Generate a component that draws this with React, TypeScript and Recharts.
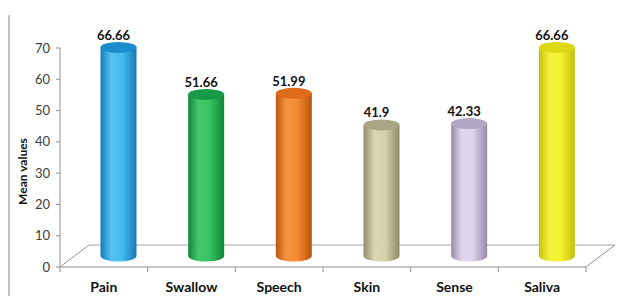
import { BarChart, Bar, XAxis, YAxis, LabelList, Customized } from 'recharts';

const CATEGORIES = ['Pain', 'Swallow', 'Speech', 'Skin', 'Sense', 'Saliva'];
const MEAN_VALUES = [66.66, 51.66, 51.99, 41.9, 42.33, 66.66];
const Y_TICKS = [0, 10, 20, 30, 40, 50, 60, 70];

const COLORS = [
  { dark: '#1679b8', light: '#45bdf0', top: '#1d8ccc' },
  { dark: '#10853a', light: '#35c460', top: '#169a48' },
  { dark: '#b8560f', light: '#f68a30', top: '#de6c1a' },
  { dark: '#8d8a68', light: '#d6d1ad', top: '#aaa584' },
  { dark: '#958aa8', light: '#ddd3ec', top: '#b3a8c4' },
  { dark: '#c4c00c', light: '#f5f22e', top: '#dcd814' },
];

const data = CATEGORIES.map((name, i) => ({ name, value: MEAN_VALUES[i] }));

// plot area geometry (fixed size chart)
const W = 630, H = 296;
const LEFT = 60, RIGHT = 586, TOP = 48, BOTTOM = 267;
const DEPTH_X = 29, DEPTH_Y = 22;
const DX = DEPTH_X / 2, DY = DEPTH_Y / 2;
const RY = 5.5;
const FONT = 'Lato, "Open Sans", sans-serif';

function Floor() {
  const band = (RIGHT - LEFT) / CATEGORIES.length;
  return (
    <g>
      <line x1={9} y1={15} x2={9} y2={H} stroke="#9a9a9a" strokeWidth={1.2} />
      <line x1={LEFT + DEPTH_X} y1={BOTTOM - DEPTH_Y} x2={RIGHT + DEPTH_X} y2={BOTTOM - DEPTH_Y} stroke="#a6a6a6" />
      <line x1={LEFT} y1={BOTTOM} x2={LEFT + DEPTH_X} y2={BOTTOM - DEPTH_Y} stroke="#909090" />
      <line x1={RIGHT} y1={BOTTOM} x2={RIGHT + DEPTH_X} y2={BOTTOM - DEPTH_Y} stroke="#909090" />
      {Array.from({ length: CATEGORIES.length + 1 }, (_, i) => (
        <line key={i} x1={LEFT + i * band} y1={BOTTOM} x2={LEFT + i * band} y2={BOTTOM + 5} stroke="#909090" />
      ))}
    </g>
  );
}

function Cylinder(props: any) {
  const { x, y, width, height, index } = props;
  const cx = x + width / 2 + DX;
  const top = y - DY;
  const bottom = y + height - DY;
  const rx = width / 2;
  const c = COLORS[index % COLORS.length];
  return (
    <g>
      <path
        d={`M${cx - rx},${top} L${cx - rx},${bottom} A${rx},${RY} 0 0 0 ${cx + rx},${bottom} L${cx + rx},${top} Z`}
        fill={`url(#cyl${index})`}
      />
      <ellipse cx={cx} cy={top} rx={rx} ry={RY} fill={c.top} />
    </g>
  );
}

function ValueLabel(props: any) {
  const { x, y, width, value } = props;
  return (
    <text
      x={x + width / 2 + DX - 5}
      y={y - DY - RY - 2}
      textAnchor="middle"
      fontFamily={FONT}
      fontWeight={700}
      fontSize={13}
      fill="#111"
    >
      {value}
    </text>
  );
}

function CategoryTick(props: any) {
  const { x, y, payload } = props;
  return (
    <text x={x} y={y + 25} textAnchor="middle" fontFamily={FONT} fontWeight={700} fontSize={14} fill="#111">
      {payload.value}
    </text>
  );
}

export default function App() {
  return (
    <div style={{ width: W, height: H, background: '#fff' }}>
      <style>{'body{margin:0}'}</style>
      <BarChart
        width={W}
        height={H}
        data={data}
        margin={{ top: TOP, right: W - RIGHT, bottom: 0, left: 0 }}
        barSize={36}
      >
        <defs>
          {COLORS.map((c, i) => (
            <linearGradient key={i} id={`cyl${i}`} x1="0" y1="0" x2="1" y2="0">
              <stop offset="0%" stopColor={c.dark} />
              <stop offset="30%" stopColor={c.light} stopOpacity={0.92} />
              <stop offset="60%" stopColor={c.light} />
              <stop offset="100%" stopColor={c.dark} />
            </linearGradient>
          ))}
        </defs>
        <Customized component={<Floor />} />
        <XAxis
          dataKey="name"
          height={H - BOTTOM}
          tickLine={false}
          tickSize={0}
          tickMargin={0}
          axisLine={{ stroke: '#909090' }}
          tick={<CategoryTick />}
          interval={0}
        />
        <YAxis
          width={LEFT}
          domain={[0, 70]}
          ticks={Y_TICKS}
          tickSize={4}
          tickMargin={6}
          axisLine={{ stroke: '#909090' }}
          tickLine={{ stroke: '#909090' }}
          tick={{ fill: '#404040', fontSize: 13, fontFamily: FONT }}
          label={{
            value: 'Mean values',
            angle: -90,
            position: 'insideLeft',
            dx: 18,
            dy: 14,
            style: { fontFamily: FONT, fontWeight: 700, fontSize: 12, fill: '#111', textAnchor: 'middle' },
          }}
        />
        <Bar dataKey="value" shape={<Cylinder />} isAnimationActive={false}>
          <LabelList dataKey="value" content={<ValueLabel />} />
        </Bar>
      </BarChart>
    </div>
  );
}
